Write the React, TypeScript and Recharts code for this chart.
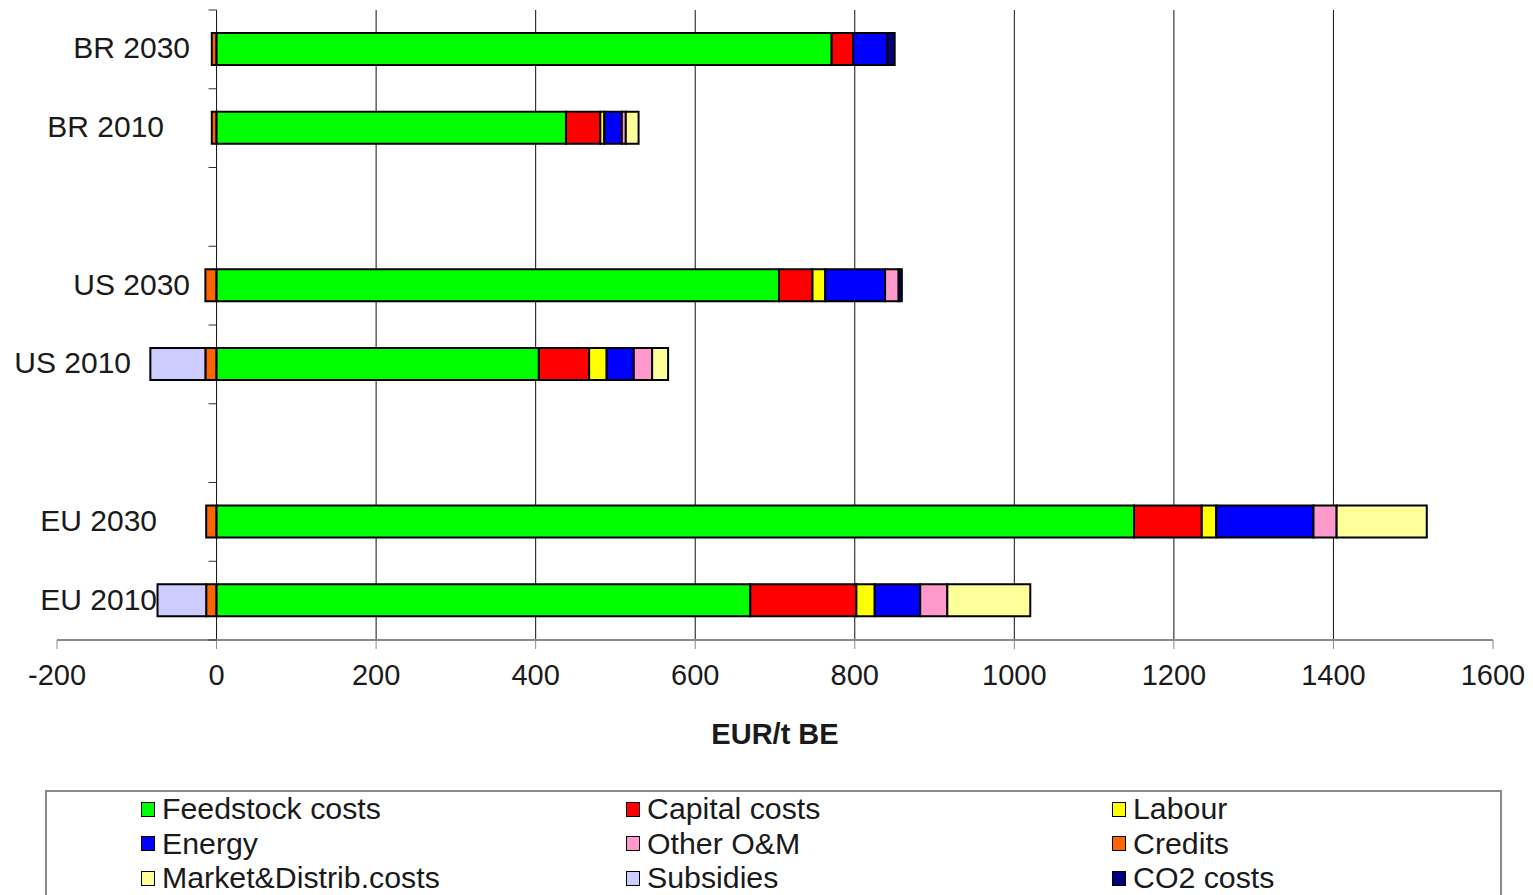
import { Bar, BarChart, CartesianGrid, Label, XAxis, YAxis } from "recharts";

const categories = ["BR 2030", "BR 2010", "", "US 2030", "US 2010", " ", "EU 2030", "EU 2010"];

const feedstock = [771, 438, 0, 705, 404, 0, 1150, 669];
const capital = [27, 43, 0, 42, 63, 0, 85, 133];
const labour = [0, 5, 0, 16, 22, 0, 18, 23];
const energy = [43, 22, 0, 75, 34, 0, 122, 57];
const otherOM = [0, 5, 0, 17, 23, 0, 29, 34];
const credits = [-6, -6, 0, -14, -14, 0, -13, -13];
const market = [0, 16, 0, 0, 20, 0, 113, 104];
const subsidies = [0, 0, 0, 0, -69, 0, 0, -61];
const co2 = [9, 0, 0, 4, 0, 0, 0, 0];

const xTicks = [-200, 0, 200, 400, 600, 800, 1000, 1200, 1400, 1600];
const gridValues = [0, 200, 400, 600, 800, 1000, 1200, 1400];

// stacking order (negatives: credits sits next to zero, subsidies outside)
const series = [
  { key: "credits", name: "Credits", color: "#FF6600", values: credits },
  { key: "subsidies", name: "Subsidies", color: "#CCCCFF", values: subsidies },
  { key: "feedstock", name: "Feedstock costs", color: "#00FF00", values: feedstock },
  { key: "capital", name: "Capital costs", color: "#FF0000", values: capital },
  { key: "labour", name: "Labour", color: "#FFFF00", values: labour },
  { key: "energy", name: "Energy", color: "#0000FF", values: energy },
  { key: "otherOM", name: "Other O&M", color: "#FF99CC", values: otherOM },
  { key: "market", name: "Market&Distrib.costs", color: "#FFFF99", values: market },
  { key: "co2", name: "CO2 costs", color: "#000080", values: co2 },
];

const legendOrder = [
  "feedstock", "capital", "labour",
  "energy", "otherOM", "credits",
  "market", "subsidies", "co2",
];

const data = categories.map((name, i) => {
  const row: Record<string, string | number> = { name };
  series.forEach((s) => {
    row[s.key] = s.values[i];
  });
  return row;
});

const W = 1533;
const H = 895;
const Y_AXIS_W = 1;
const M = { top: 10, right: 40, left: 57 - Y_AXIS_W, bottom: 195 };
const X_AXIS_H = 60;
const XMIN = -200;
const XMAX = 1600;
const PLOT_LEFT = M.left + Y_AXIS_W;
const PLOT_W = W - PLOT_LEFT - M.right;
const PLOT_H = H - M.top - M.bottom - X_AXIS_H;
const SLOT = PLOT_H / categories.length;
const X0 = PLOT_LEFT + ((0 - XMIN) / (XMAX - XMIN)) * PLOT_W;
const FONT = "'Liberation Sans', Arial, sans-serif";

// right edge of each category label (they sit at different places in the original)
const labelRight: Record<string, number> = {
  "BR 2030": 190,
  "BR 2010": 164,
  "US 2030": 190,
  "US 2010": 131,
  "EU 2030": 157,
  "EU 2010": 157,
};

function CategoryTick(props: any) {
  const { y, payload, index } = props;
  const label = String(payload.value);
  const last = index === categories.length - 1;
  return (
    <g>
      <line x1={X0 - 8} x2={X0} y1={y - SLOT / 2} y2={y - SLOT / 2} stroke="#333" strokeWidth={1} />
      {last && <line x1={X0 - 8} x2={X0} y1={y + SLOT / 2} y2={y + SLOT / 2} stroke="#333" strokeWidth={1} />}
      {label.trim() !== "" && (
        <text x={labelRight[label]} y={y} dy="0.3em" textAnchor="end" fontSize={30} fontFamily={FONT} fill="#1a1a1a">
          {label}
        </text>
      )}
    </g>
  );
}

function LegendBox() {
  return (
    <div
      style={{
        position: "absolute",
        left: 45,
        top: 790,
        width: 1457,
        height: 140,
        border: "2px solid #8a8a8a",
        boxSizing: "border-box",
        paddingLeft: 94,
        display: "grid",
        gridTemplateColumns: "485px 486px 1fr",
        gridAutoRows: "34.5px",
        fontFamily: FONT,
        fontSize: 30.3,
        color: "#1a1a1a",
      }}
    >
      {legendOrder.map((k) => {
        const s = series.find((x) => x.key === k)!;
        return (
          <div key={k} style={{ display: "flex", alignItems: "center", whiteSpace: "nowrap" }}>
            <span
              style={{
                width: 12,
                height: 13,
                background: s.color,
                border: "1.5px solid #000",
                marginRight: 7,
                display: "inline-block",
              }}
            />
            {s.name}
          </div>
        );
      })}
    </div>
  );
}

export default function App() {
  return (
    <div style={{ position: "relative", width: W, height: H, background: "#fff", overflow: "hidden" }}>
      <style>{"body{margin:0}"}</style>
      <BarChart width={W} height={H} data={data} layout="vertical" stackOffset="sign" margin={M} barSize={32}>
        <CartesianGrid horizontal={false} verticalValues={gridValues} stroke="#111" strokeWidth={1} />
        <XAxis
          type="number"
          domain={[XMIN, XMAX]}
          ticks={xTicks}
          height={X_AXIS_H}
          axisLine={{ stroke: "#8a8a8a", strokeWidth: 2 }}
          tickLine={{ stroke: "#8a8a8a" }}
          tickSize={9}
          tickMargin={15}
          tick={{ fill: "#1a1a1a", fontSize: 29, fontFamily: FONT }}
          interval={0}
        >
          <Label
            value="EUR/t BE"
            position="bottom"
            offset={23}
            style={{ fontSize: 29, fontWeight: "bold", fontFamily: FONT, fill: "#1a1a1a" }}
          />
        </XAxis>
        <YAxis
          type="category"
          dataKey="name"
          width={Y_AXIS_W}
          axisLine={false}
          tickLine={false}
          interval={0}
          tick={(p: any) => <CategoryTick {...p} />}
        />
        {series.map((s) => (
          <Bar
            key={s.key}
            dataKey={s.key}
            name={s.name}
            stackId="cost"
            fill={s.color}
            stroke="#000"
            strokeWidth={2}
            isAnimationActive={false}
          />
        ))}
      </BarChart>
      <LegendBox />
    </div>
  );
}
